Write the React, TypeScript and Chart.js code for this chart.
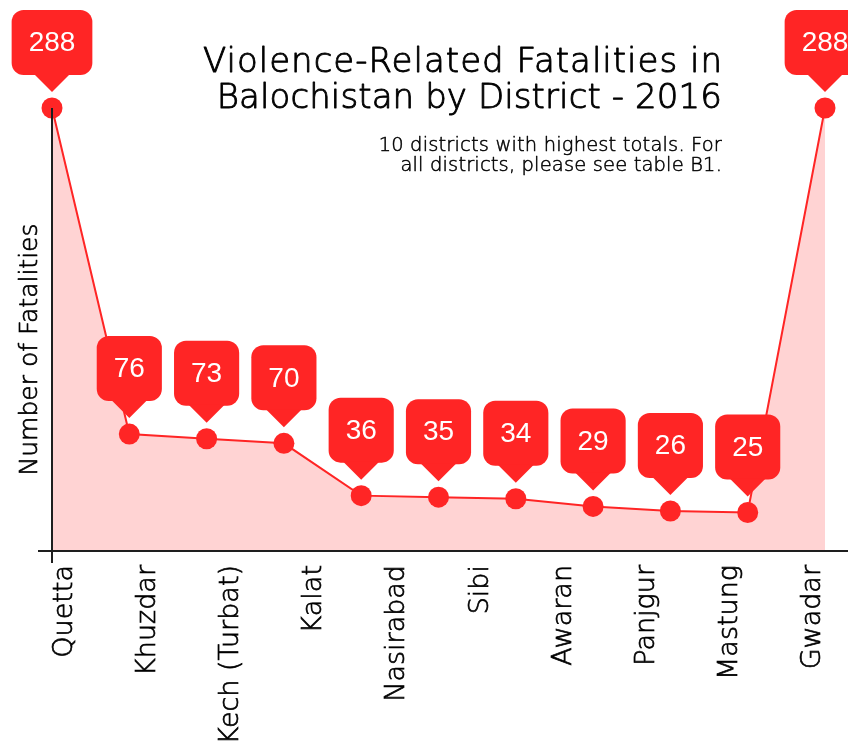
import React, { useEffect, useRef } from 'react';
import { Chart, registerables } from 'chart.js';

Chart.register(...registerables);

// ---- data ----
const districts = ['Quetta', 'Khuzdar', 'Kech (Turbat)', 'Kalat', 'Nasirabad', 'Sibi', 'Awaran', 'Panjgur', 'Mastung', 'Gwadar'];
const pointIndex = [0, 1, 2, 3, 4, 5, 6, 7, 8, 9, 10];
const fatalities = [288, 76, 73, 70, 36, 35, 34, 29, 26, 25, 288];
const yMin = 0;
const yMax = 288;
const labelAxisMin = -0.1564;
const labelAxisMax = 9.1447;
const titleLines = ['Violence-Related Fatalities in', 'Balochistan by District - 2016'];
const subtitleLines = ['10 districts with highest totals. For', 'all districts, please see table B1.'];
const yTitle = 'Number of Fatalities';

const RED = '#ff2525';
const FILL = 'rgba(255, 35, 35, 0.2)';
const INK = '#000000';
const FONT = '"DejaVu Sans", "Noto Sans", sans-serif';

function drawText(ctx: any, t: string, x: number, y: number, sw: number) {
  ctx.lineWidth = sw;
  ctx.strokeStyle = INK;
  ctx.lineJoin = 'round';
  ctx.strokeText(t, x, y);
  ctx.fillText(t, x, y);
}

const decor = {
  id: 'decor',
  afterDatasetsDraw(chart: any) {
    const { ctx, chartArea: a, width } = chart;
    ctx.save();
    // axes lines
    ctx.strokeStyle = '#1e1e1e';
    ctx.lineWidth = 2;
    ctx.beginPath();
    ctx.moveTo(a.left - 14, a.bottom);
    ctx.lineTo(width, a.bottom);
    ctx.moveTo(a.left, a.top);
    ctx.lineTo(a.left, a.bottom + 12);
    ctx.stroke();

    // callouts
    const meta = chart.getDatasetMeta(0);
    const data = chart.data.datasets[0].data;
    ctx.font = '28px "Liberation Sans", Arial, sans-serif';
    meta.data.forEach((pt: any, i: number) => {
      const text = String(data[i].y);
      const tw = ctx.measureText(text).width;
      const w = tw + 34;
      const h = 65;
      const tipY = pt.y - 16;
      const bottom = tipY - 17;
      const top = bottom - h;
      const left = pt.x - w / 2;
      ctx.fillStyle = RED;
      ctx.beginPath();
      ctx.roundRect(left, top, w, h, 12);
      ctx.fill();
      ctx.beginPath();
      ctx.moveTo(pt.x - 18, bottom - 1);
      ctx.lineTo(pt.x + 18, bottom - 1);
      ctx.lineTo(pt.x, tipY);
      ctx.closePath();
      ctx.fill();
      ctx.fillStyle = '#ffffff';
      ctx.textAlign = 'center';
      ctx.textBaseline = 'middle';
      ctx.fillText(text, pt.x, top + h / 2 + 1);
    });
    ctx.restore();
  },
  afterDraw(chart: any) {
    const { ctx, chartArea: a, width } = chart;
    ctx.save();
    ctx.fillStyle = INK;
    ctx.textAlign = 'right';
    ctx.textBaseline = 'alphabetic';
    const rx = width - 126;
    ctx.font = `300 34px ${FONT}`;
    (ctx as any).letterSpacing = '1px';
    drawText(ctx, titleLines[0], rx + 1, 72, 0.9);
    (ctx as any).letterSpacing = '0.1px';
    drawText(ctx, titleLines[1], rx, 108, 0.9);
    ctx.font = `300 19.5px ${FONT}`;
    (ctx as any).letterSpacing = '0.15px';
    subtitleLines.forEach((t, i) => drawText(ctx, t, rx, 151 + i * 20, 0.5));
    (ctx as any).letterSpacing = '0px';
    // y title
    ctx.translate(a.left - 22, (a.top + a.bottom) / 2 + 20);
    ctx.rotate(-Math.PI / 2);
    ctx.textAlign = 'center';
    ctx.textBaseline = 'middle';
    ctx.font = `300 25px ${FONT}`;
    drawText(ctx, yTitle, 0, 0, 0.7);
    ctx.restore();
  },
};

export default function App() {
  const ref = useRef<HTMLCanvasElement>(null);
  useEffect(() => {
    document.body.style.margin = '0';
    const canvas = ref.current;
    if (!canvas) return;
    const chart = new Chart(canvas, {
      type: 'line',
      data: {
        datasets: [
          {
            data: pointIndex.map((x, i) => ({ x, y: fatalities[i] })),
            borderColor: RED,
            borderWidth: 2,
            backgroundColor: FILL,
            fill: 'origin',
            pointRadius: 10.5,
            pointHoverRadius: 10.5,
            pointBackgroundColor: RED,
            pointBorderWidth: 0,
            tension: 0,
            clip: false as any,
            xAxisID: 'x',
            yAxisID: 'y',
          },
        ],
      },
      options: {
        animation: false,
        responsive: true,
        maintainAspectRatio: false,
        layout: { padding: { left: 52, right: 23, top: 108, bottom: 0 } },
        plugins: { legend: { display: false }, tooltip: { enabled: false }, title: { display: false } },
        scales: {
          x: { type: 'linear', min: 0, max: pointIndex.length - 1, display: false },
          y: { type: 'linear', min: yMin, max: yMax, display: false },
          xl: {
            type: 'linear',
            position: 'bottom',
            min: labelAxisMin,
            max: labelAxisMax,
            grid: { display: false, drawTicks: false },
            border: { display: false },
            afterBuildTicks: (s: any) => {
              s.ticks = districts.map((_, i) => ({ value: i }));
            },
            afterFit: (s: any) => {
              s.height = 193;
              s.paddingLeft = 0;
              s.paddingRight = 0;
            },
            ticks: {
              autoSkip: false,
              minRotation: 90,
              maxRotation: 90,
              padding: 14,
              color: INK,
              textStrokeColor: INK,
              textStrokeWidth: 0.7,
              font: { family: FONT, size: 27, weight: 300 as any },
              callback: (_v: any, i: number) => districts[i],
            },
          } as any,
        },
      },
      plugins: [decor],
    });
    return () => chart.destroy();
  }, []);
  return (
    <div style={{ position: 'absolute', left: 0, top: 0, width: 848, height: 744 }}>
      <canvas ref={ref} />
    </div>
  );
}
